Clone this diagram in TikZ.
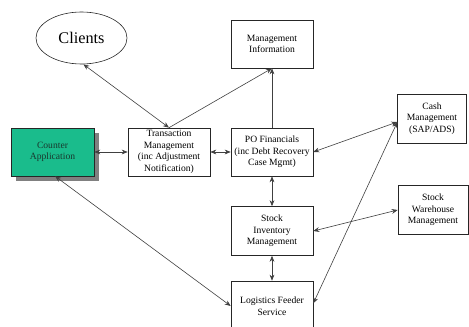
\documentclass[tikz,border=0pt]{standalone}
\usepackage{fontspec}
\setmainfont{Liberation Serif}
\usetikzlibrary{arrows.meta,shapes.geometric,shadows}
\definecolor{counterfill}{RGB}{26,188,140}
\definecolor{shadowgray}{RGB}{128,128,128}
\definecolor{countertext}{RGB}{25,55,45}
\begin{document}
\begin{tikzpicture}[x=0.75pt,y=-0.75pt,
  sysbox/.style={draw=black!85,line width=0.45pt,fill=white,
    minimum width=61.5pt,minimum height=36pt,align=center,inner sep=1pt,
    font=\fontsize{7.2}{8.7}\selectfont},
  sidebox/.style={sysbox,minimum width=51.5pt,minimum height=36.5pt},
  tip/.tip={Stealth[length=4.5pt,width=3.6pt]},
  link/.style={draw=black!75,line width=0.45pt,tip-tip},
  onelink/.style={draw=black!75,line width=0.45pt,-tip}]
\useasboundingbox (0,0) rectangle (469,327);
\clip (0,0) rectangle (469,327);

% systems
\node[ellipse,draw=black!85,line width=0.45pt,minimum width=68.25pt,
  minimum height=39pt,inner sep=0pt,font=\fontsize{12.2}{14}\selectfont]
  (clients) at (81.5,38) {Clients};
\node[sysbox,fill=counterfill,text=countertext,minimum width=62.25pt,
  drop shadow={shadow xshift=3.75pt,shadow yshift=-3.75pt,fill=shadowgray,opacity=1}]
  (counter) at (52.5,152) {Counter\\Application};
\node[sysbox] (trans) at (169,152)
  {Transaction\\Management\\(inc Adjustment\\Notification)};
\node[sysbox] (mi) at (272,44) {Management\\Information};
\node[sysbox] (po) at (272,152) {PO Financials\\(inc Debt Recovery\\Case Mgmt)};
\node[sidebox] (cash) at (432,118.5) {Cash\\Management\\(SAP/ADS)};
\node[sysbox,minimum height=36.75pt] (stock) at (272,231) {Stock\\Inventory\\Management};
\node[sidebox,minimum width=52.5pt] (ware) at (433,210) {Stock\\Warehouse\\Management};
\node[sysbox,minimum height=37.5pt] (logi) at (272,306) {Logistics Feeder\\Service};

% connectors
\coordinate (cashin) at ([yshift=-2.6pt]cash.west);
\draw[link] (clients.-86) -- (trans.north);
\draw[onelink] (trans.north) -- (mi.south);
\draw[onelink] (po.north) -- (mi.south);
\draw[link] (counter.east) -- (trans.west);
\draw[link] (trans.east) -- (po.west);
\draw[link] (po.east) -- (cashin);
\draw[link] ([yshift=2pt]logi.east) -- (cashin);
\draw[link] (po.south) -- (stock.north);
\draw[link] (stock.east) -- (ware.west);
\draw[link] (stock.south) -- (logi.north);
\draw[link] ([xshift=2pt]counter.south) -- (logi.west);
\end{tikzpicture}
\end{document}
